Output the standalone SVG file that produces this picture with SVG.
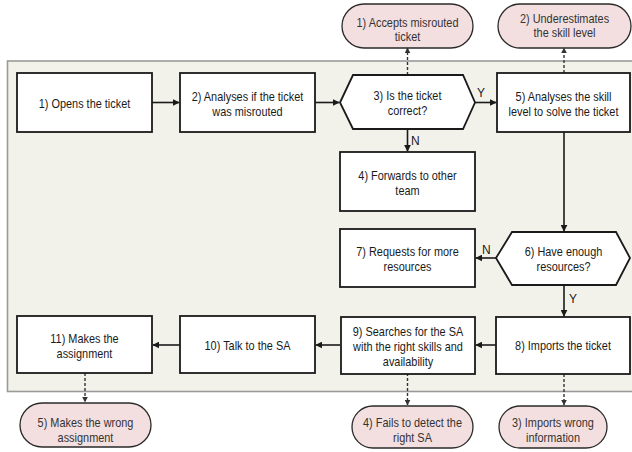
<svg xmlns="http://www.w3.org/2000/svg" width="632" height="452" viewBox="0 0 632 452">
<defs>
<style>
.panel{fill:#f2f2ea;stroke:#9a9a9a;stroke-width:1.6}
.box{fill:#ffffff;stroke:#1a1a1a;stroke-width:1.8}
.pill{fill:#f3dfdf;stroke:#2a2a2a;stroke-width:1.3}
.t{font-family:"Liberation Sans",Arial,sans-serif;font-size:13px;fill:#1a1a1a;text-anchor:middle}
.pt{font-family:"Liberation Sans",Arial,sans-serif;font-size:13px;fill:#333333;text-anchor:middle}
.lbl{font-family:"Liberation Sans",Arial,sans-serif;font-size:12px;fill:#1a1a1a}
.c{fill:none;stroke:#1a1a1a;stroke-width:1.6}
.d{fill:none;stroke:#333333;stroke-width:1.4;stroke-dasharray:3 2}
</style>
<marker id="ah" viewBox="0 0 10 10" refX="9" refY="5" markerWidth="7" markerHeight="7" markerUnits="userSpaceOnUse" orient="auto">
<path d="M0,0 L10,5 L0,10 z" fill="#1a1a1a"/>
</marker>
<marker id="dh" viewBox="0 0 10 10" refX="9" refY="5" markerWidth="6" markerHeight="6" markerUnits="userSpaceOnUse" orient="auto">
<path d="M0,0 L10,5 L0,10 z" fill="#333333"/>
</marker>
</defs>
<rect x="0" y="0" width="632" height="452" fill="#ffffff"/>
<rect class="panel" x="7.5" y="61" width="640" height="330.5"/>

<g id="connectors">
<line class="c" x1="152" y1="102.5" x2="179" y2="102.5" marker-end="url(#ah)"/>
<line class="c" x1="315" y1="102.5" x2="339" y2="102.5" marker-end="url(#ah)"/>
<line class="c" x1="475" y1="102.5" x2="496" y2="102.5" marker-end="url(#ah)"/>
<text class="lbl" x="477" y="97">Y</text>
<line class="c" x1="407.5" y1="129" x2="407.5" y2="151" marker-end="url(#ah)"/>
<text class="lbl" x="411" y="145">N</text>
<line class="c" x1="564" y1="132" x2="564" y2="231" marker-end="url(#ah)"/>
<line class="c" x1="496" y1="258" x2="476" y2="258" marker-end="url(#ah)"/>
<text class="lbl" x="482" y="254">N</text>
<line class="c" x1="564" y1="285" x2="564" y2="316" marker-end="url(#ah)"/>
<text class="lbl" x="569" y="303">Y</text>
<line class="c" x1="496" y1="345" x2="476" y2="345" marker-end="url(#ah)"/>
<line class="c" x1="340" y1="345" x2="316" y2="345" marker-end="url(#ah)"/>
<line class="c" x1="180" y1="345" x2="153" y2="345" marker-end="url(#ah)"/>
<line class="d" x1="407.5" y1="75" x2="407.5" y2="48" marker-end="url(#dh)"/>
<line class="d" x1="564" y1="73" x2="564" y2="48" marker-end="url(#dh)"/>
<line class="d" x1="85" y1="373" x2="85" y2="402" marker-end="url(#dh)"/>
<line class="d" x1="407.5" y1="373" x2="407.5" y2="405" marker-end="url(#dh)"/>
<line class="d" x1="564" y1="374" x2="564" y2="405" marker-end="url(#dh)"/>
</g>

<g id="n1">
<rect class="box" x="17" y="73" width="135" height="59"/>
<g transform="translate(84.5,0) scale(0.84,1)"><text class="t" x="0" y="108">1) Opens the ticket</text></g>
</g>
<g id="n2">
<rect class="box" x="180" y="73" width="135" height="59"/>
<g transform="translate(247.5,0) scale(0.84,1)"><text class="t" x="0" y="101">2) Analyses if the ticket</text><text class="t" x="0" y="116">was misrouted</text></g>
</g>
<g id="n3">
<polygon class="box" points="340,102.5 353,75 463,75 475,102.5 463,129 353,129"/>
<g transform="translate(407.5,0) scale(0.84,1)"><text class="t" x="0" y="100">3) Is the ticket</text><text class="t" x="0" y="115">correct?</text></g>
</g>
<g id="n4">
<rect class="box" x="340" y="152" width="135" height="59"/>
<g transform="translate(407.5,0) scale(0.84,1)"><text class="t" x="0" y="180">4) Forwards to other</text><text class="t" x="0" y="195">team</text></g>
</g>
<g id="n5">
<rect class="box" x="497" y="73" width="133" height="59"/>
<g transform="translate(563.5,0) scale(0.84,1)"><text class="t" x="0" y="101">5) Analyses the skill</text><text class="t" x="0" y="116">level to solve the ticket</text></g>
</g>
<g id="n6">
<polygon class="box" points="496,258 512,232 616,232 630,258 616,285 512,285"/>
<g transform="translate(563.5,0) scale(0.84,1)"><text class="t" x="0" y="256">6) Have enough</text><text class="t" x="0" y="271">resources?</text></g>
</g>
<g id="n7">
<rect class="box" x="340" y="229" width="135" height="58"/>
<g transform="translate(407.5,0) scale(0.84,1)"><text class="t" x="0" y="256">7) Requests for more</text><text class="t" x="0" y="271">resources</text></g>
</g>
<g id="n8">
<rect class="box" x="496" y="317" width="134" height="57"/>
<g transform="translate(563,0) scale(0.84,1)"><text class="t" x="0" y="350">8) Imports the ticket</text></g>
</g>
<g id="n9">
<rect class="box" x="341" y="317" width="134" height="57"/>
<g transform="translate(408,0) scale(0.84,1)"><text class="t" x="0" y="336">9) Searches for the SA</text><text class="t" x="0" y="351">with the right skills and</text><text class="t" x="0" y="366">availability</text></g>
</g>
<g id="n10">
<rect class="box" x="180" y="316" width="135" height="57"/>
<g transform="translate(247.5,0) scale(0.84,1)"><text class="t" x="0" y="350">10) Talk to the SA</text></g>
</g>
<g id="n11">
<rect class="box" x="17" y="316" width="135" height="57"/>
<g transform="translate(84.5,0) scale(0.84,1)"><text class="t" x="0" y="343">11) Makes the</text><text class="t" x="0" y="358">assignment</text></g>
</g>

<g id="r1">
<rect class="pill" x="342" y="4" width="131" height="44" rx="22" ry="22"/>
<g transform="translate(407.5,0) scale(0.84,1)"><text class="pt" x="0" y="27">1) Accepts misrouted</text><text class="pt" x="0" y="41">ticket</text></g>
</g>
<g id="r2">
<rect class="pill" x="498" y="4" width="133" height="44" rx="22" ry="22"/>
<g transform="translate(564.5,0) scale(0.84,1)"><text class="pt" x="0" y="23">2) Underestimates</text><text class="pt" x="0" y="37">the skill level</text></g>
</g>
<g id="r3">
<rect class="pill" x="499" y="406" width="108" height="42" rx="21" ry="21"/>
<g transform="translate(553,0) scale(0.84,1)"><text class="pt" x="0" y="427">3) Imports wrong</text><text class="pt" x="0" y="442">information</text></g>
</g>
<g id="r4">
<rect class="pill" x="352" y="406" width="121" height="42" rx="21" ry="21"/>
<g transform="translate(412.5,0) scale(0.84,1)"><text class="pt" x="0" y="427">4) Fails to detect the</text><text class="pt" x="0" y="442">right SA</text></g>
</g>
<g id="r5">
<rect class="pill" x="20" y="403" width="131" height="44" rx="22" ry="22"/>
<g transform="translate(85.5,0) scale(0.84,1)"><text class="pt" x="0" y="427">5) Makes the wrong</text><text class="pt" x="0" y="442">assignment</text></g>
</g>
</svg>
